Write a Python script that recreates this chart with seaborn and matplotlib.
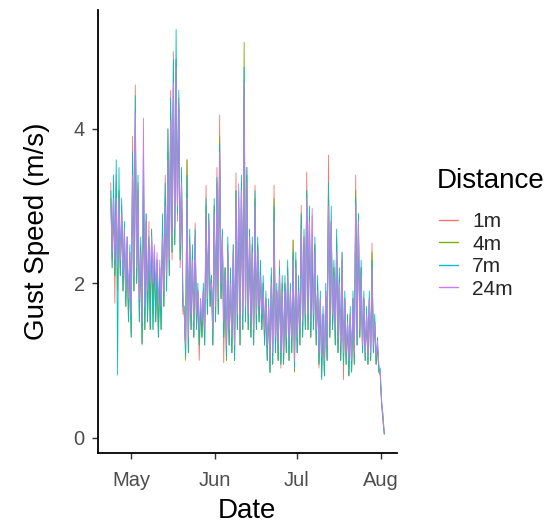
import matplotlib
matplotlib.use("Agg")
import matplotlib.pyplot as plt
import matplotlib.dates as mdates
from matplotlib.lines import Line2D
import numpy as np
import pandas as pd
import seaborn as sns

# Daily gust peaks (afternoon) and troughs (overnight), one value per day
# starting 2021-04-23 and ending 2021-08-01.
distances = ["1m", "4m", "7m", "24m"]
colors = ["#F8766D", "#7CAE00", "#00BFC4", "#C77CFF"]
start_day = "2021-04-23"

high_1m = [3.3, 3.2, 3.4, 3.2, 3.0, 2.7, 2.6, 2.4, 3.9, 4.57,
           3.3, 2.5, 3.6, 2.9, 2.8, 2.7, 2.4, 2.3, 2.2, 2.8,
           3.4, 4.0, 4.5, 5.0, 4.9, 4.4, 3.4, 1.6, 3.6, 2.6,
           2.4, 2.78, 1.9, 1.7, 1.9, 3.27, 2.9, 2.1, 3.0, 3.5,
           4.18, 2.7, 2.2, 2.5, 2.1, 2.5, 3.43, 3.1, 3.3, 4.6,
           3.5, 2.7, 2.5, 3.27, 2.5, 2.2, 2.0, 1.8, 1.7, 2.1,
           3.27, 1.9, 2.3, 2.0, 2.0, 2.2, 1.9, 2.56, 2.3, 2.0,
           3.01, 2.6, 3.44, 2.9, 2.88, 2.5, 2.0, 1.8, 1.6, 1.9,
           3.66, 2.8, 2.2, 2.53, 2.1, 2.4, 1.8, 1.5, 1.6, 1.8,
           3.4, 2.9, 2.2, 1.8, 1.6, 1.8, 2.52, 1.5, 1.2, 0.8,
           0.2]
low_1m = [2.2, 1.74, 2.1, 2.1, 1.9, 1.7, 1.5, 1.35, 1.9, 2.0,
          1.5, 1.2, 1.4, 1.5, 1.4, 1.6, 1.5, 1.3, 1.4, 1.7,
          1.9, 2.1, 2.3, 2.5, 2.8, 2.2, 1.6, 1.1, 1.1, 1.4,
          1.3, 1.4, 1.0, 1.3, 1.2, 1.6, 1.7, 1.2, 1.5, 1.6,
          1.8, 0.97, 1.0, 1.2, 1.1, 1.0, 1.4, 1.2, 1.4, 1.5,
          1.4, 1.3, 1.2, 1.4, 1.5, 1.4, 1.2, 1.0, 0.85, 0.95,
          1.1, 1.0, 0.9, 0.95, 1.1, 1.0, 1.1, 0.85, 1.1, 1.2,
          1.3, 1.4, 1.4, 1.3, 1.4, 1.2, 0.9, 0.95, 0.8, 1.0,
          1.3, 1.4, 1.2, 1.1, 1.0, 0.75, 0.95, 0.8, 0.85, 0.95,
          1.2, 1.3, 1.1, 1.0, 0.95, 1.0, 1.1, 0.95, 0.85, 0.45,
          0.06]

high_4m = [3.1, 3.0, 3.3, 3.2, 2.9, 2.6, 2.5, 2.3, 3.5, 4.0,
           3.2, 2.4, 3.3, 2.8, 2.5, 2.6, 2.3, 2.2, 2.1, 2.7,
           3.1, 3.7, 4.2, 4.5, 4.9, 4.3, 3.3, 1.6, 3.6, 2.5,
           2.3, 2.6, 1.9, 1.7, 1.9, 3.0, 2.8, 2.1, 3.0, 3.3,
           3.9, 2.6, 2.2, 2.4, 2.1, 2.4, 3.2, 3.0, 3.3, 5.12,
           3.4, 2.6, 2.5, 3.1, 2.5, 2.2, 2.0, 1.8, 1.7, 2.1,
           3.1, 1.9, 2.2, 2.0, 2.0, 2.2, 1.9, 2.56, 2.3, 2.0,
           2.9, 2.5, 3.2, 2.8, 2.4, 2.5, 2.0, 1.8, 1.6, 1.9,
           3.3, 2.8, 2.2, 2.6, 2.1, 2.3, 1.8, 1.5, 1.6, 1.8,
           3.2, 2.8, 2.2, 1.8, 1.6, 1.8, 2.4, 1.5, 1.2, 0.85,
           0.25]
low_4m = [2.3, 2.1, 1.9, 2.1, 1.9, 1.7, 1.5, 1.3, 1.9, 2.0,
          1.5, 1.22, 1.4, 1.5, 1.4, 1.4, 1.5, 1.3, 1.4, 1.7,
          1.9, 2.1, 2.4, 2.5, 2.9, 2.3, 1.7, 1.0, 1.1, 1.4,
          1.3, 1.4, 1.2, 1.3, 1.2, 1.6, 1.7, 1.2, 1.5, 1.6,
          1.8, 1.3, 1.0, 1.2, 1.1, 1.0, 1.4, 1.2, 1.4, 1.5,
          1.4, 1.3, 1.2, 1.4, 1.5, 1.4, 1.2, 1.0, 0.85, 0.95,
          1.1, 1.0, 0.95, 0.95, 1.1, 1.0, 1.1, 0.85, 1.1, 1.2,
          1.3, 1.4, 1.4, 1.3, 1.4, 1.2, 0.95, 0.78, 0.8, 1.0,
          1.3, 1.4, 1.2, 1.1, 1.0, 0.95, 0.95, 0.8, 0.85, 0.95,
          1.2, 1.3, 1.1, 1.0, 0.95, 1.0, 1.1, 0.95, 0.85, 0.45,
          0.04]

high_7m = [3.2, 3.4, 3.6, 3.5, 3.1, 2.8, 2.6, 2.5, 3.7, 4.43,
           3.4, 2.6, 3.8, 2.9, 2.6, 2.7, 2.4, 2.3, 2.2, 2.9,
           3.3, 4.0, 4.4, 4.9, 5.29, 4.5, 3.5, 1.7, 3.4, 2.7,
           2.5, 2.7, 2.0, 1.8, 2.0, 3.1, 2.9, 2.1, 3.1, 3.37,
           3.8, 2.7, 2.2, 2.6, 2.2, 2.5, 3.2, 3.2, 3.4, 4.8,
           3.5, 2.7, 2.6, 3.2, 2.6, 2.3, 2.1, 1.9, 1.8, 2.2,
           3.0, 2.0, 2.2, 2.1, 2.1, 2.3, 2.0, 2.4, 2.4, 2.1,
           2.9, 2.7, 3.2, 3.0, 2.5, 2.6, 2.1, 1.9, 1.7, 2.0,
           3.3, 3.0, 2.3, 2.7, 2.2, 2.4, 1.9, 1.6, 1.7, 1.9,
           3.1, 2.9, 2.3, 1.9, 1.7, 1.9, 2.3, 1.6, 1.3, 0.9,
           0.3]
low_7m = [2.2, 2.1, 0.81, 2.1, 1.9, 1.7, 1.5, 1.3, 1.9, 2.0,
          1.5, 1.22, 1.4, 1.5, 1.4, 1.4, 1.5, 1.3, 1.4, 1.7,
          1.9, 2.1, 2.4, 2.5, 2.9, 2.3, 1.7, 1.05, 1.1, 1.4,
          1.3, 1.4, 1.2, 1.3, 1.2, 1.6, 1.7, 1.2, 1.5, 1.6,
          1.8, 1.3, 1.05, 1.2, 1.1, 1.0, 1.4, 1.2, 1.4, 1.5,
          1.4, 1.3, 1.2, 1.4, 1.5, 1.4, 1.2, 1.0, 0.84, 0.95,
          1.1, 1.0, 0.95, 0.95, 1.1, 1.0, 1.1, 0.9, 1.1, 1.2,
          1.3, 1.4, 1.4, 1.3, 1.4, 1.2, 0.95, 0.75, 0.8, 1.0,
          1.3, 1.4, 1.2, 1.1, 1.0, 0.95, 0.95, 0.8, 0.85, 0.95,
          1.2, 1.3, 1.1, 1.0, 0.95, 1.0, 1.1, 0.95, 0.85, 0.45,
          0.05]

high_24m = [3.0, 3.1, 3.1, 3.1, 2.9, 2.7, 2.6, 2.4, 3.4, 4.2,
            3.2, 2.4, 4.14, 2.8, 2.5, 2.6, 2.5, 2.4, 2.3, 2.6,
            3.0, 3.6, 4.1, 4.6, 4.8, 4.3, 3.3, 1.6, 3.1, 2.5,
            2.3, 2.6, 1.9, 1.8, 1.9, 2.9, 2.8, 2.0, 2.9, 3.3,
            3.7, 2.6, 2.1, 2.4, 2.0, 2.4, 3.1, 3.29, 3.2, 4.6,
            3.3, 2.6, 2.4, 3.0, 2.4, 2.1, 1.9, 1.8, 1.7, 2.0,
            2.8, 1.9, 2.1, 1.9, 1.9, 2.1, 1.9, 2.3, 2.2, 1.9,
            2.7, 2.6, 3.1, 2.8, 2.97, 2.4, 1.9, 1.8, 1.6, 1.9,
            3.0, 2.8, 2.1, 2.4, 2.0, 2.3, 1.8, 1.5, 1.6, 1.8,
            3.0, 2.8, 2.1, 1.8, 1.6, 1.8, 2.2, 1.5, 1.25, 0.88,
            0.3]
low_24m = [2.4, 2.3, 2.2, 2.3, 2.1, 1.9, 1.8, 1.6, 2.1, 2.2,
           1.8, 1.5, 1.7, 1.9, 2.0, 2.0, 1.95, 1.7, 1.7, 1.9,
           2.1, 2.3, 2.6, 2.7, 3.0, 2.5, 1.9, 1.2, 1.3, 1.6,
           1.5, 1.6, 1.4, 1.5, 1.4, 1.8, 1.9, 1.4, 1.7, 1.8,
           2.0, 1.5, 1.2, 1.4, 1.3, 1.2, 1.6, 1.4, 1.6, 1.7,
           1.6, 1.5, 1.4, 1.6, 1.7, 1.6, 1.4, 1.2, 1.0, 1.1,
           1.3, 1.2, 1.1, 1.1, 1.3, 1.2, 1.3, 1.0, 1.3, 1.4,
           1.5, 1.6, 1.6, 1.5, 1.6, 1.4, 1.1, 1.05, 1.0, 1.2,
           1.5, 1.6, 1.4, 1.3, 1.2, 1.1, 1.1, 1.0, 1.0, 1.1,
           1.3, 1.4, 1.2, 1.1, 1.05, 1.1, 1.2, 1.05, 0.95, 0.5,
           0.07]

highs = {"1m": high_1m, "4m": high_4m, "7m": high_7m, "24m": high_24m}
lows = {"1m": low_1m, "4m": low_4m, "7m": low_7m, "24m": low_24m}

# Long table: afternoon peak at 14:00, following overnight trough at 02:00
rows = []
day0 = pd.Timestamp(start_day)
for dist in distances:
    for d, (h, l) in enumerate(zip(highs[dist], lows[dist])):
        rows.append((day0 + pd.Timedelta(days=d, hours=14), h, dist))
        rows.append((day0 + pd.Timedelta(days=d, hours=26), l, dist))
df = pd.DataFrame(rows, columns=["Date", "Gust", "Distance"])

sns.set_style("white")
plt.rcParams["font.family"] = ["Liberation Sans", "DejaVu Sans"]

fig = plt.figure(figsize=(5.58, 5.23), dpi=100)
ax = fig.add_axes([0.1756, 0.1338, 0.535, 0.8471])

sns.lineplot(data=df, x="Date", y="Gust", hue="Distance",
             hue_order=distances, palette=colors, estimator=None,
             linewidth=0.6, legend=False, ax=ax)

ax.set_xlim(mdates.date2num(pd.Timestamp("2021-04-18 21:00")),
            mdates.date2num(pd.Timestamp("2021-08-06 14:00")))
ax.set_ylim(-0.2, 5.54)
ax.set_yticks([0, 2, 4])
ax.set_xticks([mdates.date2num(pd.Timestamp(s)) for s in
               ["2021-05-01", "2021-06-01", "2021-07-01", "2021-08-01"]])
ax.xaxis.set_major_formatter(mdates.DateFormatter("%b"))

sns.despine(ax=ax)
for side in ["left", "bottom"]:
    ax.spines[side].set_color("black")
    ax.spines[side].set_linewidth(1.3)
ax.tick_params(axis="both", which="major", bottom=True, left=True,
               length=4.5, width=1.0, color="#333333",
               labelcolor="#4D4D4D", labelsize=14.5)
ax.tick_params(axis="x", pad=8.5)
ax.tick_params(axis="y", pad=5)

ax.set_xlabel("Date", fontsize=20, color="black", labelpad=6)
ax.set_ylabel("Gust Speed (m/s)", fontsize=20, color="black", labelpad=17)

# Legend: title placed above the keys, keys built from the series colours
fig.text(437 / 558, 1 - 181 / 523, "Distance", fontsize=20,
         ha="left", va="center", color="black")
handles = [Line2D([0], [0], color=c, linewidth=1.0) for c in colors]
fig.legend(handles, distances, loc="upper left",
           bbox_to_anchor=(439 / 558, 1 - 212 / 523),
           bbox_transform=fig.transFigure, frameon=False, fontsize=15,
           handlelength=0.9, handletextpad=0.7, labelspacing=0.17,
           borderaxespad=0, borderpad=0)

fig.savefig("out.png", dpi=100)
